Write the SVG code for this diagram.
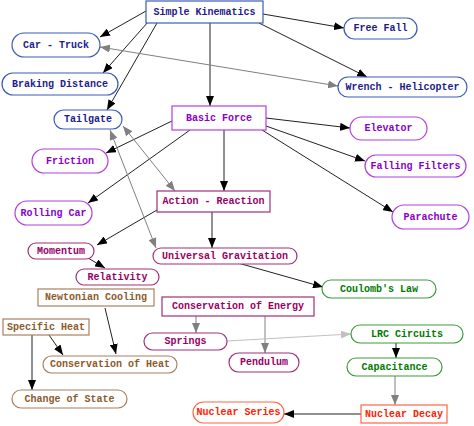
<svg xmlns="http://www.w3.org/2000/svg" width="474" height="426" viewBox="0 0 474 426">
<defs>
<marker id="ab" viewBox="0 0 10 8" refX="10" refY="4" markerWidth="10" markerHeight="8" markerUnits="userSpaceOnUse" orient="auto-start-reverse"><path d="M0,0 L10,4 L0,8 z" fill="#000"/></marker>
<marker id="ag" viewBox="0 0 10 8" refX="10" refY="4" markerWidth="10" markerHeight="8" markerUnits="userSpaceOnUse" orient="auto-start-reverse"><path d="M0,0 L10,4 L0,8 z" fill="#808080"/></marker>
<marker id="al" viewBox="0 0 10 8" refX="10" refY="4" markerWidth="10" markerHeight="8" markerUnits="userSpaceOnUse" orient="auto-start-reverse"><path d="M0,0 L10,4 L0,8 z" fill="#c0c0c0"/></marker>
</defs>
<style>
text{font-family:"Liberation Mono","Courier New",monospace;font-size:10px;font-weight:bold;text-anchor:middle;dominant-baseline:central}
rect{fill:#fff;stroke-width:1.2}
.k{stroke:#222;stroke-width:1;fill:none;marker-end:url(#ab)}
.g{stroke:#808080;stroke-width:1;fill:none;marker-end:url(#ag)}
.gg{stroke:#808080;stroke-width:1;fill:none;marker-end:url(#ag);marker-start:url(#ag)}
.l{stroke:#c0c0c0;stroke-width:1;fill:none;marker-end:url(#al)}
.b rect{stroke:#3a5cb8}.b text{fill:#1c1c8c}
.v rect{stroke:#b040e0}.v text{fill:#8a00c8}
.m rect{stroke:#a0307a}.m text{fill:#990066}
.n rect{stroke:#a88060}.n text{fill:#8b5a2b}
.e rect{stroke:#3c9a3c}.e text{fill:#007a00}
.r rect{stroke:#ff6644}.r text{fill:#ff2200}
</style>
<g id="connectors">
<path class="k" d="M146,11 L100,37"/>
<path class="k" d="M148,22 L103,73"/>
<path class="k" d="M157,23 L107,110"/>
<path class="k" d="M210,23 L210,106"/>
<path class="k" d="M263,14 L344,28"/>
<path class="k" d="M259,23 L367,77"/>
<path class="k" d="M266,118 L350,128"/>
<path class="k" d="M266,126 L365,161"/>
<path class="k" d="M262,130 L393,212"/>
<path class="k" d="M172,121 L106,153"/>
<path class="k" d="M190,130 L88,203"/>
<path class="k" d="M224,130 L224,191"/>
<path class="k" d="M157,210 L97,245"/>
<path class="k" d="M212,212 L212,248"/>
<path class="k" d="M88,258 L105,268"/>
<path class="k" d="M238,263 L323,287"/>
<path class="k" d="M105,308 L116,354"/>
<path class="k" d="M49,335 L63,355"/>
<path class="k" d="M32,335 L32,390"/>
<path class="k" d="M396,343 L396,358"/>
<path class="k" d="M361,414 L284,414"/>
<path class="gg" d="M338,86 L100,47"/>
<path class="gg" d="M175,191 L123,126"/>
<path class="gg" d="M156,248 L110,130"/>
<path class="g" d="M196,316 L196,333"/>
<path class="g" d="M265,316 L265,353"/>
<path class="l" d="M227,341 L351,334"/>
<path class="g" d="M395,376 L395,405"/>
</g>
<g id="simple-kinematics" class="b"><rect x="146" y="1" width="117" height="22"/><text x="204.5" y="12">Simple Kinematics</text></g>
<g id="car-truck" class="b"><rect x="12" y="33" width="88" height="24" rx="12"/><text x="56" y="45">Car - Truck</text></g>
<g id="braking-distance" class="b"><rect x="2" y="73" width="116" height="22" rx="11"/><text x="60" y="84">Braking Distance</text></g>
<g id="tailgate" class="b"><rect x="54" y="110" width="68" height="19" rx="9.5"/><text x="88" y="119.5">Tailgate</text></g>
<g id="free-fall" class="b"><rect x="344" y="18" width="73" height="21" rx="10.5"/><text x="380.5" y="28.5">Free Fall</text></g>
<g id="wrench-helicopter" class="b"><rect x="338" y="77" width="129" height="20" rx="10"/><text x="402.5" y="87">Wrench - Helicopter</text></g>
<g id="basic-force" class="v"><rect x="172" y="106" width="94" height="24"/><text x="219" y="118">Basic Force</text></g>
<g id="elevator" class="v"><rect x="350" y="117" width="77" height="23" rx="11.5"/><text x="388.5" y="128.5">Elevator</text></g>
<g id="friction" class="v"><rect x="32" y="149" width="76" height="24" rx="12"/><text x="70" y="161">Friction</text></g>
<g id="falling-filters" class="v"><rect x="365" y="155" width="101" height="22" rx="11"/><text x="415.5" y="166">Falling Filters</text></g>
<g id="action-reaction" class="m"><rect x="157" y="191" width="113" height="21"/><text x="213.5" y="201.5">Action - Reaction</text></g>
<g id="rolling-car" class="v"><rect x="15" y="201" width="77" height="24" rx="12"/><text x="53.5" y="213">Rolling Car</text></g>
<g id="parachute" class="v"><rect x="392" y="205" width="77" height="24" rx="12"/><text x="430.5" y="217">Parachute</text></g>
<g id="momentum" class="m"><rect x="28" y="243" width="66" height="16" rx="8"/><text x="61" y="251">Momentum</text></g>
<g id="universal-gravitation" class="m"><rect x="153" y="248" width="144" height="16" rx="8"/><text x="225" y="256">Universal Gravitation</text></g>
<g id="relativity" class="m"><rect x="76" y="269" width="83" height="16" rx="8"/><text x="117.5" y="277">Relativity</text></g>
<g id="coulombs-law" class="e"><rect x="322" y="280" width="114" height="18" rx="9"/><text x="379" y="289">Coulomb's Law</text></g>
<g id="newtonian-cooling" class="n"><rect x="38" y="289" width="116" height="17"/><text x="96" y="297.5">Newtonian Cooling</text></g>
<g id="conservation-of-energy" class="m"><rect x="162" y="297" width="152" height="19"/><text x="238" y="306.5">Conservation of Energy</text></g>
<g id="specific-heat" class="n"><rect x="3" y="319" width="86" height="16"/><text x="46" y="327">Specific Heat</text></g>
<g id="springs" class="m"><rect x="144" y="333" width="83" height="17" rx="8.5"/><text x="185.5" y="341.5">Springs</text></g>
<g id="lrc-circuits" class="e"><rect x="351" y="325" width="112" height="18" rx="9"/><text x="407" y="334">LRC Circuits</text></g>
<g id="conservation-of-heat" class="n"><rect x="43" y="356" width="134" height="17" rx="8.5"/><text x="110" y="364.5">Conservation of Heat</text></g>
<g id="pendulum" class="m"><rect x="229" y="353" width="70" height="19" rx="9.5"/><text x="264" y="362.5">Pendulum</text></g>
<g id="capacitance" class="e"><rect x="347" y="358" width="95" height="18" rx="9"/><text x="394.5" y="367">Capacitance</text></g>
<g id="change-of-state" class="n"><rect x="12" y="390" width="115" height="18" rx="9"/><text x="69.5" y="399">Change of State</text></g>
<g id="nuclear-series" class="r"><rect x="193" y="402" width="91" height="21" rx="10.5"/><text x="238.5" y="412.5">Nuclear Series</text></g>
<g id="nuclear-decay" class="r"><rect x="361" y="405" width="86" height="18"/><text x="404" y="414">Nuclear Decay</text></g>
</svg>
